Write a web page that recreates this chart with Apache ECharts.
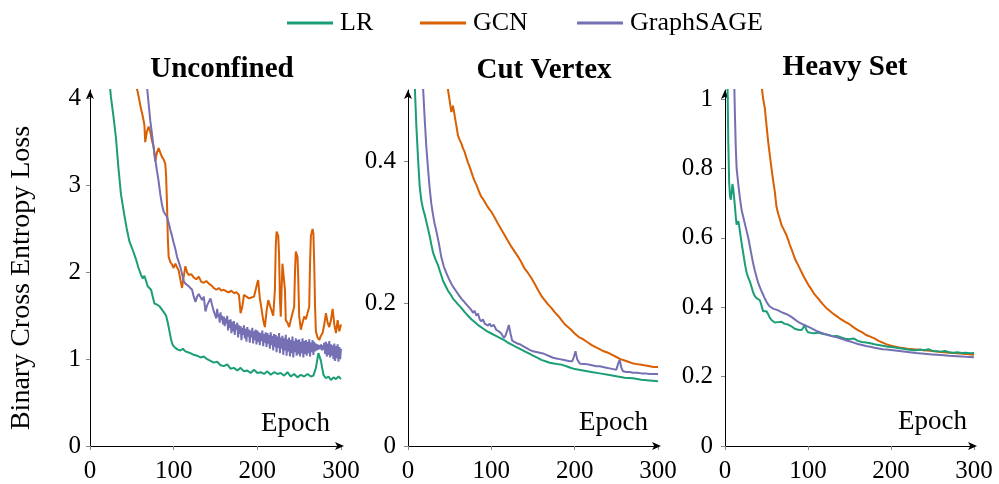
<!DOCTYPE html>
<html>
<head>
<meta charset="utf-8">
<script src="https://cdn.jsdelivr.net/npm/echarts@6/dist/echarts.min.js"></script>
<style>
html,body{margin:0;padding:0;background:#fff;}
#chart{width:999px;height:484px;}
</style>
</head>
<body>
<div id="chart"></div>
<script>
// ---------- Panel titles / tick labels ----------
const panelTitles = ['Unconfined', 'Cut Vertex', 'Heavy Set'];
const seriesNames = ['LR', 'GCN', 'GraphSAGE'];
const xTickValues = [0, 100, 200, 300];
const yTicksUnconfined = [0, 1, 2, 3, 4];
const yTicksCutVertex = [0, 0.2, 0.4];
const yTicksHeavySet = [0, 0.2, 0.4, 0.6, 0.8, 1];

// ---------- Unconfined ----------
const unconfLrEpochs = [0,5,10,15,20,25,28,31,34,37,41,44,47,51,55,58,61,63,65,67,69,71,73,75,77,80,83,86,89,91,93,95,97,99,102,105,108,111,114,117,120,124,128,132,136,140,144,148,152,156,160,164,168,172,176,180,184,188,192,196,200,204,208,212,216,220,224,228,232,236,240,244,248,252,256,260,264,267,270,273,276,279,282,285,288,291,294,297,300];
const unconfLrLoss = [11.0,8.2,6.4,5.3,4.55,4.02,3.8,3.55,3.2,2.9,2.66,2.5,2.36,2.26,2.15,2.05,1.97,1.93,1.96,1.9,1.84,1.82,1.8,1.72,1.64,1.63,1.61,1.57,1.53,1.5,1.42,1.32,1.22,1.16,1.13,1.11,1.1,1.12,1.09,1.08,1.07,1.05,1.04,1.02,1.03,1.0,0.98,0.96,0.97,0.93,0.92,0.94,0.89,0.9,0.87,0.9,0.86,0.87,0.84,0.88,0.84,0.85,0.83,0.86,0.82,0.85,0.83,0.84,0.81,0.85,0.8,0.83,0.79,0.82,0.8,0.83,0.8,0.81,0.9,1.07,0.98,0.82,0.78,0.8,0.76,0.79,0.77,0.8,0.77];

const unconfGcnEpochs = [0,10,20,30,40,50,55,57,59,61,63,65,66,68,70,72,74,76,78,80,82,84,86,88,90,91,92,93,94,96,98,100,102,104,106,108,110,112,114,116,118,121,124,127,130,133,136,139,142,145,148,151,154,157,160,163,166,169,172,175,178,180,182,184,187,190,193,196,198,200,201,203,205,207,209,211,213,215,217,219,220,221,222,223,225,226,227,228,229,230,232,233,234,236,238,240,242,244,245,246,248,249,250,252,254,256,258,260,262,263,264,266,267,268,269,270,272,274,276,278,280,282,284,286,288,290,292,294,296,298,300];
const unconfGcnLoss = [12,8.5,6.5,5.4,4.8,4.4,4.15,4.08,3.98,3.88,3.8,3.7,3.5,3.62,3.68,3.62,3.52,3.45,3.28,3.38,3.43,3.38,3.33,3.3,3.25,3.1,2.8,2.4,2.18,2.12,2.09,2.05,2.1,2.06,2.02,2.0,1.82,1.95,2.07,2.0,1.97,1.98,1.94,1.92,1.95,1.89,1.88,1.9,1.87,1.85,1.82,1.8,1.82,1.79,1.8,1.78,1.77,1.79,1.76,1.77,1.74,1.53,1.6,1.74,1.72,1.7,1.71,1.72,1.8,1.88,1.91,1.7,1.58,1.45,1.37,1.55,1.68,1.62,1.6,1.5,1.49,1.8,2.3,2.47,2.42,2.2,1.7,1.49,1.8,2.1,2.08,1.8,1.45,1.42,1.37,1.45,1.53,1.6,2.0,2.24,2.18,1.9,1.5,1.34,1.42,1.49,1.46,1.45,1.6,2.1,2.42,2.5,2.45,2.1,1.6,1.32,1.25,1.22,1.27,1.3,1.4,1.53,1.42,1.37,1.45,1.58,1.4,1.3,1.45,1.32,1.4];

const unconfSageEpochs = [0,10,20,30,40,50,60,65,68,70,72,74,76,78,80,82,84,86,88,90,92,94,96,98,100,102,104,106,108,110,112,114,116,118,120,122,124,126,128,130,132,134,136,138,140,142,144,146,148,
  150,151,152,153,154,155,156,157,158,159,160,161,162,163,164,165,166,167,168,169,170,171,172,173,174,175,176,177,178,179,
  180,181,182,183,184,185,186,187,188,189,190,191,192,193,194,195,196,197,198,199,200,201,202,203,204,205,206,207,208,209,
  210,211,212,213,214,215,216,217,218,219,220,221,222,223,224,225,226,227,228,229,230,231,232,233,234,235,236,237,238,239,
  240,241,242,243,244,245,246,247,248,249,250,251,252,253,254,255,256,257,258,259,260,261,262,263,264,265,266,267,268,269,
  270,271,272,273,274,275,276,277,278,279,280,281,282,283,284,285,286,287,288,289,290,291,292,293,294,295,296,297,298,299,300];
const unconfSageLoss = [12,9,7.5,6.5,5.7,5.1,4.6,4.35,4.15,3.95,3.75,3.6,3.44,3.3,3.17,3.05,2.9,2.78,2.7,2.67,2.64,2.57,2.49,2.42,2.34,2.27,2.18,2.12,2.06,1.98,1.9,1.87,1.86,1.84,1.85,1.8,1.72,1.66,1.72,1.75,1.73,1.68,1.72,1.55,1.62,1.6,1.7,1.62,1.55,
  1.55,1.47,1.58,1.49,1.52,1.42,1.54,1.45,1.50,1.40,
  1.49,1.38,1.47,1.41,1.50,1.33,1.45,1.36,1.46,1.30,
  1.43,1.32,1.44,1.28,1.40,1.34,1.42,1.25,1.39,1.29,
  1.38,1.22,1.36,1.28,1.39,1.24,1.35,1.20,1.37,1.26,
  1.34,1.19,1.33,1.25,1.36,1.18,1.32,1.22,1.34,1.17,
  1.33,1.20,1.31,1.16,1.30,1.21,1.33,1.15,1.29,1.19,
  1.31,1.14,1.30,1.18,1.28,1.12,1.31,1.16,1.27,1.10,
  1.29,1.14,1.28,1.08,1.26,1.13,1.30,1.07,1.25,1.12,
  1.27,1.05,1.24,1.10,1.28,1.04,1.23,1.09,1.25,1.03,
  1.22,1.07,1.26,1.02,1.21,1.08,1.24,1.04,1.22,1.06,
  1.23,1.03,1.20,1.07,1.24,1.02,1.21,1.06,1.22,1.04,
  1.20,1.07,1.23,1.03,1.19,1.08,1.22,1.05,1.20,1.09,
  1.18,1.10,1.17,1.11,1.16,1.12,1.17,1.10,1.16,1.11,
  1.19,1.06,1.20,1.03,1.18,1.05,1.21,1.02,1.17,1.04,
  1.16,1.00,1.18,0.98,1.15,1.01,1.17,0.97,1.14,1.00,1.12];

// ---------- Cut Vertex ----------
const cutLrEpochs = [0,3,6,8,10,12,14,16,18,20,22,24,26,28,30,33,36,39,42,45,48,51,54,57,60,64,68,72,76,80,85,90,95,100,105,110,115,120,125,130,135,140,145,150,155,160,165,170,175,180,185,190,195,200,210,220,230,240,250,260,270,280,290,300];
const cutLrLoss = [1.2,0.85,0.62,0.51,0.45,0.405,0.365,0.345,0.333,0.325,0.315,0.305,0.295,0.283,0.272,0.262,0.254,0.243,0.232,0.225,0.218,0.213,0.207,0.203,0.199,0.194,0.188,0.183,0.178,0.174,0.169,0.165,0.161,0.158,0.155,0.152,0.149,0.145,0.142,0.139,0.136,0.133,0.13,0.127,0.124,0.121,0.119,0.117,0.116,0.115,0.114,0.112,0.11,0.108,0.106,0.104,0.102,0.1,0.098,0.096,0.095,0.093,0.092,0.091];

const cutGcnEpochs = [0,10,20,30,40,45,48,50,52,54,56,58,60,62,64,66,68,70,72,74,76,78,80,82,84,86,88,90,92,95,98,100,104,108,112,116,120,124,128,132,136,140,144,148,152,156,160,164,168,172,176,180,184,188,192,196,200,205,210,215,220,225,230,235,240,245,250,255,260,265,270,275,280,285,290,295,300];
const cutGcnLoss = [1.8,1.2,0.9,0.72,0.6,0.54,0.5,0.485,0.469,0.478,0.464,0.45,0.436,0.43,0.425,0.418,0.413,0.405,0.398,0.392,0.385,0.378,0.372,0.367,0.361,0.355,0.35,0.347,0.343,0.337,0.332,0.329,0.321,0.312,0.304,0.296,0.288,0.28,0.273,0.266,0.258,0.249,0.243,0.236,0.228,0.219,0.211,0.205,0.199,0.194,0.188,0.183,0.177,0.171,0.167,0.163,0.158,0.153,0.15,0.146,0.142,0.139,0.136,0.133,0.131,0.128,0.125,0.122,0.12,0.118,0.116,0.115,0.114,0.113,0.112,0.111,0.111];

const cutSageEpochs = [0,5,10,15,18,20,22,24,26,28,30,32,34,37,40,43,46,49,52,55,58,61,64,67,70,73,76,78,80,82,84,86,88,90,92,94,96,98,100,103,106,109,112,115,117,119,121,123,125,128,131,134,137,140,143,146,150,154,158,162,166,170,174,178,182,186,190,194,197,199,201,203,206,210,214,218,222,226,230,234,238,242,246,250,252,254,256,258,262,266,270,275,280,285,290,295,300];
const cutSageLoss = [1.5,0.9,0.7,0.58,0.505,0.46,0.42,0.39,0.362,0.34,0.325,0.312,0.302,0.285,0.265,0.252,0.243,0.235,0.228,0.222,0.217,0.212,0.207,0.203,0.199,0.195,0.191,0.187,0.19,0.183,0.186,0.178,0.175,0.178,0.172,0.174,0.169,0.172,0.168,0.17,0.163,0.161,0.158,0.152,0.155,0.162,0.17,0.158,0.148,0.146,0.144,0.143,0.141,0.139,0.137,0.135,0.133,0.132,0.131,0.13,0.128,0.126,0.124,0.123,0.122,0.121,0.12,0.119,0.119,0.125,0.133,0.122,0.116,0.115,0.115,0.114,0.113,0.112,0.112,0.111,0.11,0.109,0.108,0.107,0.115,0.121,0.11,0.105,0.104,0.104,0.103,0.103,0.102,0.102,0.101,0.101,0.101];

// ---------- Heavy Set ----------
const heavyLrEpochs = [0,2,3,4,5,6,7,8,9,10,11,12,13,14,15,16,17,18,20,22,24,26,28,30,32,34,36,38,40,42,44,46,48,50,52,54,56,58,60,62,64,66,68,70,72,74,76,78,80,82,84,86,88,90,92,94,96,98,100,104,108,112,116,120,125,130,135,140,145,150,155,160,165,170,175,180,185,190,195,200,205,210,215,220,225,230,235,240,245,250,255,260,265,270,275,280,285,290,295,300];
const heavyLrLoss = [1.6,1.2,1.05,0.87,0.76,0.72,0.71,0.73,0.755,0.74,0.715,0.69,0.66,0.638,0.642,0.648,0.635,0.618,0.585,0.555,0.525,0.5,0.485,0.474,0.458,0.442,0.432,0.426,0.424,0.42,0.405,0.388,0.385,0.388,0.38,0.37,0.363,0.36,0.356,0.354,0.357,0.355,0.358,0.357,0.352,0.355,0.35,0.349,0.345,0.342,0.338,0.334,0.335,0.333,0.334,0.34,0.349,0.335,0.328,0.326,0.325,0.327,0.324,0.322,0.32,0.316,0.317,0.313,0.309,0.308,0.31,0.303,0.3,0.298,0.296,0.293,0.291,0.289,0.287,0.285,0.284,0.282,0.28,0.278,0.277,0.276,0.278,0.276,0.279,0.274,0.273,0.272,0.274,0.27,0.269,0.27,0.268,0.269,0.267,0.268];

const heavyGcnEpochs = [0,10,20,30,40,44,46,48,50,52,54,56,58,60,62,64,66,68,70,72,74,76,78,80,82,84,86,88,90,92,95,98,101,104,107,110,114,118,122,126,130,134,138,142,146,150,155,160,165,170,175,180,185,190,195,200,210,220,230,240,250,260,270,280,290,300];
const heavyGcnLoss = [3.0,2.3,1.8,1.45,1.15,1.04,1.0,0.973,0.925,0.877,0.838,0.8,0.765,0.733,0.69,0.67,0.655,0.637,0.628,0.618,0.608,0.595,0.58,0.568,0.555,0.541,0.531,0.522,0.512,0.502,0.488,0.475,0.462,0.452,0.44,0.431,0.42,0.408,0.398,0.39,0.382,0.375,0.368,0.362,0.356,0.351,0.342,0.334,0.328,0.32,0.315,0.31,0.303,0.298,0.293,0.289,0.284,0.28,0.278,0.276,0.274,0.271,0.269,0.267,0.265,0.263];

const heavySageEpochs = [0,5,8,10,11,12,13,14,16,18,20,22,24,26,28,30,32,34,36,38,40,42,44,46,48,50,52,54,56,58,60,64,68,72,76,80,84,88,92,96,100,105,110,115,120,125,130,135,140,145,150,155,160,165,170,175,180,185,190,195,200,210,220,230,240,250,260,270,280,290,300];
const heavySageLoss = [2.0,1.5,1.25,1.12,1.06,0.95,0.86,0.8,0.755,0.714,0.68,0.66,0.64,0.62,0.6,0.575,0.55,0.525,0.505,0.487,0.47,0.458,0.446,0.436,0.425,0.416,0.408,0.402,0.399,0.396,0.395,0.391,0.386,0.382,0.378,0.372,0.365,0.358,0.353,0.348,0.344,0.338,0.332,0.327,0.323,0.319,0.316,0.313,0.309,0.305,0.302,0.298,0.294,0.291,0.288,0.286,0.283,0.281,0.279,0.278,0.277,0.274,0.271,0.268,0.266,0.264,0.262,0.26,0.259,0.257,0.256];

// ---------- build ----------
const colors = {LR: '#1b9e77', GCN: '#d95f02', GraphSAGE: '#7570b3'};
const FONT = '"Liberation Serif", "DejaVu Serif", serif';
const zip = (xs, ys) => xs.map((x, i) => [x, ys[i]]);

const panels = [
  {grid: {left: 90, right: 658, top: 90, bottom: 38}, yMax: 4.1, yTicks: yTicksUnconfined, yMargin: 9,
   data: [zip(unconfLrEpochs, unconfLrLoss), zip(unconfGcnEpochs, unconfGcnLoss), zip(unconfSageEpochs, unconfSageLoss)]},
  {grid: {left: 408, right: 341, top: 90, bottom: 38}, yMax: 0.5, yTicks: yTicksCutVertex, yMargin: 12,
   data: [zip(cutLrEpochs, cutLrLoss), zip(cutGcnEpochs, cutGcnLoss), zip(cutSageEpochs, cutSageLoss)]},
  {grid: {left: 725, right: 25, top: 90, bottom: 38}, yMax: 1.026, yTicks: yTicksHeavySet, yMargin: 12,
   data: [zip(heavyLrEpochs, heavyLrLoss), zip(heavyGcnEpochs, heavyGcnLoss), zip(heavySageEpochs, heavySageLoss)]}
];

const grids = [], xAxes = [], yAxes = [], series = [];
panels.forEach((p, i) => {
  grids.push(Object.assign({containLabel: false}, p.grid));
  xAxes.push({
    type: 'value', gridIndex: i, min: 0, max: 300, interval: 100,
    axisLine: {show: true, lineStyle: {color: '#000', width: 1}, symbol: ['none', 'arrow'], symbolSize: [6, 9], symbolOffset: [0, 3]},
    axisTick: {show: true, length: 4, lineStyle: {color: '#888'}, customValues: xTickValues},
    axisLabel: {color: '#000', fontFamily: FONT, fontSize: 25, margin: 13, customValues: xTickValues},
    splitLine: {show: false}
  });
  yAxes.push({
    type: 'value', gridIndex: i, min: 0, max: p.yMax,
    axisLine: {show: true, lineStyle: {color: '#000', width: 1}, symbol: ['none', 'arrow'], symbolSize: [6, 9], symbolOffset: [0, 0]},
    axisTick: {show: true, length: 4, lineStyle: {color: '#888'}, customValues: p.yTicks},
    axisLabel: {color: '#000', fontFamily: FONT, fontSize: 25, margin: p.yMargin, customValues: p.yTicks},
    splitLine: {show: false}
  });
  seriesNames.forEach((name, k) => {
    series.push({
      name: name, type: 'line', xAxisIndex: i, yAxisIndex: i,
      data: p.data[k], showSymbol: false, symbol: 'none', clip: true,
      lineStyle: {color: colors[name], width: 2}, itemStyle: {color: colors[name]},
      z: k === 0 ? 3 : (k === 1 ? 2 : 4), animation: false
    });
  });
});

const legendPos = [287, 420, 577];
const legends = seriesNames.map((name, k) => ({
  data: [name], left: legendPos[k], top: 10, padding: 0, icon: 'rect', itemWidth: 46, itemHeight: 3, itemGap: 0,
  selectedMode: false,
  textStyle: {fontFamily: FONT, fontSize: 26, color: '#000', lineHeight: 26, padding: [0, 0, 0, 2]}
}));

const titlePos = [[222, 70], [544, 71], [845, 68]];
const epochPos = [[330, 424], [648, 423], [967, 422]];
const graphics = [];
panelTitles.forEach((t, i) => {
  graphics.push({type: 'text', x: titlePos[i][0], y: titlePos[i][1], style: {text: t, font: 'bold 29px ' + FONT, fill: '#000', textAlign: 'center', textVerticalAlign: 'middle'}});
  graphics.push({type: 'text', x: epochPos[i][0], y: epochPos[i][1], style: {text: 'Epoch', font: '27px ' + FONT, fill: '#000', textAlign: 'right', textVerticalAlign: 'middle'}});
});
graphics.push({type: 'text', x: 22, y: 278, rotation: Math.PI / 2, style: {text: 'Binary Cross Entropy Loss', font: '28px ' + FONT, fill: '#000', textAlign: 'center', textVerticalAlign: 'middle'}});

const chart = echarts.init(document.getElementById('chart'), null, {renderer: 'canvas'});
chart.setOption({
  animation: false,
  backgroundColor: '#fff',
  grid: grids, xAxis: xAxes, yAxis: yAxes, series: series,
  legend: legends,
  graphic: graphics
});
</script>
</body>
</html>
